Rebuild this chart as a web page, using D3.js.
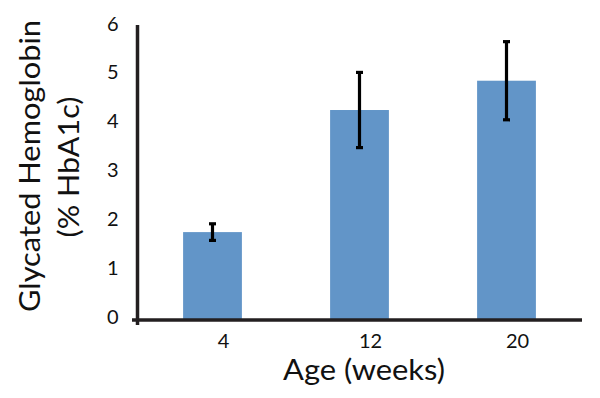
<!DOCTYPE html>
<html><head><meta charset="utf-8">
<script src="https://cdn.jsdelivr.net/npm/d3@7"></script>
<style>
html,body{margin:0;padding:0;background:#fff;}
text{font-family:Lato,"Noto Sans",sans-serif;fill:#111;}
</style></head>
<body>
<svg id="c" width="600" height="398"></svg>
<script>
const categories = ["4", "12", "20"];
const means = [1.80, 4.30, 4.90];
const errors = [0.17, 0.77, 0.80];
const yTicks = [0, 1, 2, 3, 4, 5, 6];
const xTitle = "Age (weeks)";
const yTitle = ["Glycated Hemoglobin", "(% HbA1c)"];

const svg = d3.select("#c");
const x = d3.scaleBand().domain(categories).range([139, 580]).paddingInner(0.6).paddingOuter(0.3);
const y = d3.scaleLinear().domain([0, 6]).range([320, 27]);
const axisColor = "#231f20";

// bars
svg.selectAll("rect.bar").data(categories).join("rect")
  .attr("class", "bar")
  .attr("x", d => x(d))
  .attr("width", x.bandwidth())
  .attr("y", (d, i) => y(means[i]))
  .attr("height", (d, i) => y(0) - y(means[i]))
  .attr("fill", "#6295c8");

// error bars
const eg = svg.append("g").attr("stroke", "#000").attr("stroke-width", 3.2);
categories.forEach((c, i) => {
  const cx = x(c) + x.bandwidth() / 2;
  const t = y(means[i] + errors[i]), b = y(means[i] - errors[i]);
  eg.append("line").attr("x1", cx).attr("x2", cx).attr("y1", t).attr("y2", b);
  eg.append("line").attr("x1", cx - 3.5).attr("x2", cx + 3.5).attr("y1", t).attr("y2", t);
  eg.append("line").attr("x1", cx - 3.5).attr("x2", cx + 3.5).attr("y1", b).attr("y2", b);
});

// y axis
const ya = svg.append("g").attr("transform", "translate(137.5,0)")
  .call(d3.axisLeft(y).tickValues(yTicks).tickFormat(d3.format("d")).tickSize(0).tickPadding(19));
ya.select(".domain").remove();
ya.selectAll("text").attr("font-size", 20).attr("dy", "0.15em").style("font-family", "Lato, 'Noto Sans', sans-serif").attr("fill", "#111");
svg.append("line").attr("x1", 137.5).attr("x2", 137.5).attr("y1", y(6) - 2).attr("y2", 325)
  .attr("stroke", axisColor).attr("stroke-width", 3.5);

// x axis
const xa = svg.append("g").attr("transform", "translate(0,320)")
  .call(d3.axisBottom(x).tickSize(0).tickPadding(14));
xa.select(".domain").remove();
xa.selectAll("text").attr("font-size", 20).attr("dx", 11).style("font-family", "Lato, 'Noto Sans', sans-serif").attr("fill", "#111");
svg.append("line").attr("x1", 132).attr("x2", 582).attr("y1", 320).attr("y2", 320)
  .attr("stroke", axisColor).attr("stroke-width", 3.5);

// titles
svg.append("text").attr("x", 364).attr("y", 380).attr("text-anchor", "middle")
  .attr("font-size", 28).attr("textLength", 162).attr("lengthAdjust", "spacingAndGlyphs").text(xTitle);

const yt = svg.append("g");
yt.append("text").attr("transform", "translate(40,166) rotate(-90)").attr("text-anchor", "middle")
  .attr("font-size", 28).attr("textLength", 292).attr("lengthAdjust", "spacingAndGlyphs").text(yTitle[0]);
yt.append("text").attr("transform", "translate(79,167) rotate(-90)").attr("text-anchor", "middle")
  .attr("font-size", 28).attr("textLength", 141).attr("lengthAdjust", "spacingAndGlyphs").text(yTitle[1]);
</script>
</body></html>
